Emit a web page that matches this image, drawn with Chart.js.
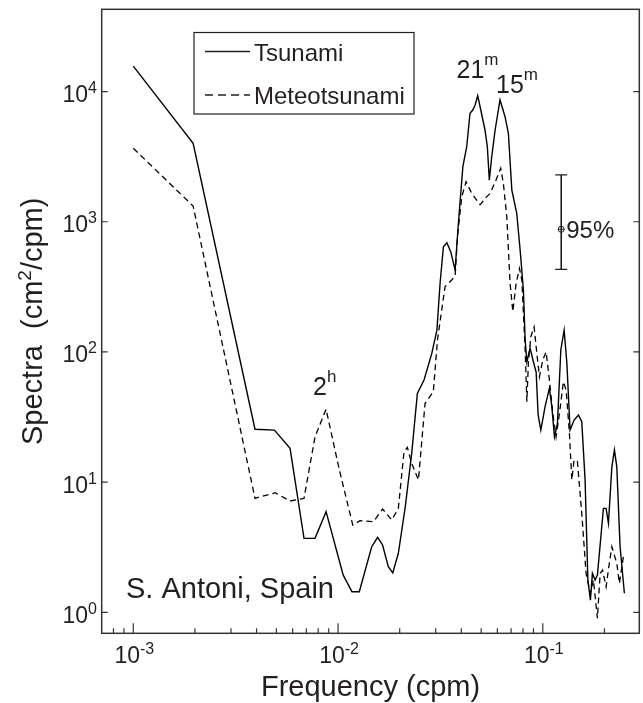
<!DOCTYPE html>
<html>
<head>
<meta charset="utf-8">
<script src="https://cdn.jsdelivr.net/npm/chart.js@4.4.1/dist/chart.umd.min.js"></script>
<style>
  html, body { margin: 0; padding: 0; background: #fff; }
  #wrap { width: 643px; height: 703px; }
</style>
</head>
<body>
<div id="wrap"><canvas id="chart" width="643" height="703"></canvas></div>
<script>
// spectra (frequency in cpm, spectra in cm^2/cpm)
const tsunamiFreq = [0.001, 0.00196, 0.00393, 0.00489, 0.00583, 0.00682, 0.00772, 0.00874, 0.0106, 0.0117,
  0.0127, 0.0146, 0.0156, 0.0165, 0.0176, 0.0185, 0.0197, 0.0213, 0.0229, 0.0244,
  0.0263, 0.0287, 0.0304, 0.0315, 0.0327, 0.0340, 0.0355, 0.0373, 0.0387, 0.0407,
  0.0425, 0.0441, 0.0455, 0.0467, 0.0481, 0.0498, 0.0522, 0.0536, 0.0548, 0.0563,
  0.0585, 0.0618, 0.0654, 0.0679, 0.0706, 0.0746, 0.0775, 0.0804, 0.0820, 0.0836,
  0.0867, 0.0900, 0.0928, 0.0949, 0.0978, 0.1026, 0.1077, 0.1107, 0.1140, 0.1179,
  0.1225, 0.1271, 0.1311, 0.1359, 0.1422, 0.1493, 0.1550, 0.1609, 0.1660, 0.1708,
  0.1747, 0.1800, 0.1848, 0.1977, 0.2038, 0.2092, 0.2174, 0.2238, 0.2298, 0.2385, 0.2503];
const tsunamiSpec = [15700, 4000, 25.5, 25.1, 18.2, 3.70, 3.70, 5.93, 1.93, 1.44,
  1.44, 3.19, 3.77, 3.29, 2.24, 2.01, 2.84, 6.47, 16.7, 48.1,
  60.9, 97.6, 147, 337, 643, 690, 589, 426, 973, 2650,
  3770, 6810, 7220, 7890, 9300, 7220, 5070, 3770, 2090, 3160,
  5070, 8620, 6410, 4780, 1750, 1160, 607, 299, 124, 83.7,
  107, 83.7, 70.1, 32.8, 25.1, 38.0, 52.6, 38.0, 22.3, 28.3,
  104, 147, 81.8, 25.1, 30.0, 32.8, 29.1, 10.4, 1.77, 1.24,
  1.99, 1.77, 1.93, 6.29, 6.29, 4.83, 13.1, 17.7, 13.1, 3.19, 1.40];

const meteoFreq = [0.001, 0.00196, 0.00393, 0.00493, 0.00583, 0.00682, 0.00772, 0.00874, 0.01015, 0.0118,
  0.0128, 0.0149, 0.0165, 0.0183, 0.0197, 0.0210, 0.0218, 0.0229, 0.0247, 0.0266,
  0.0292, 0.0306, 0.0333, 0.0359, 0.0373, 0.0383, 0.0402, 0.0422, 0.0450, 0.0494,
  0.0533, 0.0553, 0.0591, 0.0623, 0.0642, 0.0667, 0.0692, 0.0714, 0.0741, 0.0769,
  0.0790, 0.0820, 0.0836, 0.0850, 0.0874, 0.0907, 0.0935, 0.0963, 0.1000, 0.1038,
  0.1077, 0.1119, 0.1161, 0.1206, 0.1261, 0.1300, 0.1349, 0.1386, 0.1422, 0.1476,
  0.1550, 0.1627, 0.1706, 0.1767, 0.1848, 0.1906, 0.1958, 0.2038, 0.2101, 0.2174,
  0.2298, 0.2366, 0.2475];
const meteoSpec = [3670, 1320, 7.51, 8.29, 7.16, 7.51, 22.3, 36.3, 12.4, 4.68,
  5.05, 4.97, 6.22, 5.12, 6.29, 17.1, 18.5, 13.9, 10.4, 40.3,
  49.5, 124, 317, 357, 383, 768, 1560, 2030, 1650, 1350,
  1560, 1650, 2090, 2580, 1970, 1090, 337, 204, 337, 439,
  357, 104, 41.5, 81.8, 131, 156, 97.6, 64.5, 86.7, 100,
  60.9, 33.8, 22.3, 33.8, 59.1, 51.0, 23.7, 10.4, 14.8, 14.4,
  5.76, 1.99, 1.40, 1.77, 0.90, 1.99, 2.11, 1.57, 2.24, 3.19,
  2.38, 1.67, 2.67];

const seriesNames = ["Tsunami", "Meteotsunami"];

const xTicks = [0.001, 0.01, 0.1];
const xTickExp = ["-3", "-2", "-1"];
const yTicks = [1, 10, 100, 1000, 10000];
const yTickExp = ["0", "1", "2", "3", "4"];

// 95% confidence bar: frequency, then low / centre / high
const errFreq = 0.123;
const errBar = [431, 875, 2290];

// period labels over the peaks
const peakText = ["21", "15", "2"];
const peakSup = ["m", "m", "h"];
const peakFreq = [0.0379, 0.0591, 0.00755];
const peakSpec = [12650, 9750, 46.7];

const ink = "#231f20";
const font = "Arial, 'Liberation Sans', Helvetica, sans-serif";

function supText(ctx, parts, x, y, align) {
  // parts: [text, size, rise]
  let w = 0;
  parts.forEach(p => { ctx.font = p[1] + "px " + font; w += ctx.measureText(p[0]).width; });
  let cx = align === "center" ? x - w / 2 : align === "right" ? x - w : x;
  ctx.textAlign = "left";
  ctx.textBaseline = "alphabetic";
  parts.forEach(p => {
    ctx.font = p[1] + "px " + font;
    ctx.fillText(p[0], cx, y - p[2]);
    cx += ctx.measureText(p[0]).width;
  });
}

const decor = {
  id: "decor",
  afterDraw(chart) {
    const { ctx, chartArea: a, scales: { x, y } } = chart;
    ctx.save();
    ctx.fillStyle = ink;
    ctx.strokeStyle = "#333";
    ctx.lineWidth = 1.5;
    ctx.strokeRect(a.left, a.top, a.right - a.left, a.bottom - a.top);

    // x ticks, pointing in
    ctx.lineWidth = 1.2;
    ctx.beginPath();
    for (let d = -4; d <= 0; d++) {
      for (let m = 1; m <= 9; m++) {
        const v = m * Math.pow(10, d);
        if (v <= x.min || v >= x.max) continue;
        const px = x.getPixelForValue(v);
        const len = m === 1 ? 10 : 5;
        ctx.moveTo(px, a.bottom);
        ctx.lineTo(px, a.bottom - len);
      }
    }
    // y ticks on both sides
    yTicks.forEach(v => {
      const py = y.getPixelForValue(v);
      ctx.moveTo(a.left, py); ctx.lineTo(a.left + 6, py);
      ctx.moveTo(a.right, py); ctx.lineTo(a.right - 6, py);
    });
    ctx.stroke();

    xTicks.forEach((v, i) => {
      supText(ctx, [["10", 23, 0], [xTickExp[i], 16, 9]], x.getPixelForValue(v) + 1, 663, "center");
    });
    yTicks.forEach((v, i) => {
      supText(ctx, [["10", 23, 0], [yTickExp[i], 16, 9]], 97, y.getPixelForValue(v) + 10.5, "right");
    });

    // axis titles
    supText(ctx, [["Frequency (cpm)", 29, 0]], (a.left + a.right) / 2, 696, "center");
    ctx.save();
    ctx.translate(42, (a.top + a.bottom) / 2);
    ctx.rotate(-Math.PI / 2);
    supText(ctx, [["Spectra  (cm", 29, 0], ["2", 19, 11], ["/cpm)", 29, 0]], 0, 0, "center");
    ctx.restore();

    // legend
    ctx.strokeStyle = ink;
    ctx.lineWidth = 1.2;
    ctx.strokeRect(194, 32.5, 220, 81.5);
    ctx.lineWidth = 1.4;
    ctx.beginPath(); ctx.moveTo(205, 51.5); ctx.lineTo(250, 51.5); ctx.stroke();
    ctx.setLineDash([8, 5]);
    ctx.beginPath(); ctx.moveTo(205, 95); ctx.lineTo(250, 95); ctx.stroke();
    ctx.setLineDash([]);
    supText(ctx, [[seriesNames[0], 24, 0]], 254, 60.5, "left");
    supText(ctx, [[seriesNames[1], 24, 0]], 254, 103.5, "left");

    // peak labels
    peakText.forEach((t, i) => {
      supText(ctx, [[t, 25, 0], [peakSup[i], 17, 13]], x.getPixelForValue(peakFreq[i]), y.getPixelForValue(peakSpec[i]), "left");
    });

    // station name
    supText(ctx, [["S. Antoni, Spain", 29, 0]], 126, 598, "left");

    // confidence bar caps, centre mark and label
    const ex = x.getPixelForValue(errFreq);
    const lo = y.getPixelForValue(errBar[0]);
    const mid = y.getPixelForValue(errBar[1]);
    const hi = y.getPixelForValue(errBar[2]);
    ctx.lineWidth = 1.4;
    ctx.beginPath();
    ctx.moveTo(ex - 6, lo); ctx.lineTo(ex + 6, lo);
    ctx.moveTo(ex - 6, hi); ctx.lineTo(ex + 6, hi);
    ctx.stroke();
    ctx.lineWidth = 1;
    ctx.beginPath();
    ctx.arc(ex, mid, 3, 0, Math.PI * 2);
    ctx.moveTo(ex - 3, mid); ctx.lineTo(ex + 3, mid);
    ctx.stroke();
    supText(ctx, [["95%", 24, 0]], ex + 5, mid + 8.5, "left");
    ctx.restore();
  }
};

const ctx = document.getElementById("chart");
new Chart(ctx, {
  type: "line",
  data: {
    datasets: [
      {
        label: seriesNames[0],
        data: tsunamiFreq.map((f, i) => ({ x: f, y: tsunamiSpec[i] })),
        borderColor: "#000",
        borderWidth: 1.4,
        pointRadius: 0,
        tension: 0,
        fill: false
      },
      {
        label: seriesNames[1],
        data: meteoFreq.map((f, i) => ({ x: f, y: meteoSpec[i] })),
        borderColor: "#000",
        borderWidth: 1.3,
        borderDash: [6, 4],
        pointRadius: 0,
        tension: 0,
        fill: false
      },
      {
        label: "95%",
        data: [{ x: errFreq, y: errBar[0] }, { x: errFreq, y: errBar[2] }],
        borderColor: "#000",
        borderWidth: 1.4,
        pointRadius: 0,
        fill: false
      }
    ]
  },
  options: {
    responsive: false,
    animation: false,
    layout: { padding: { left: 101.7, right: 3.7, top: 9.3, bottom: 69.7 } },
    plugins: { legend: { display: false }, tooltip: { enabled: false } },
    scales: {
      x: { type: "logarithmic", min: 7.01e-4, max: 0.296, display: false },
      y: { type: "logarithmic", min: 0.69, max: 42860, display: false }
    }
  },
  plugins: [decor]
});
</script>
</body>
</html>
